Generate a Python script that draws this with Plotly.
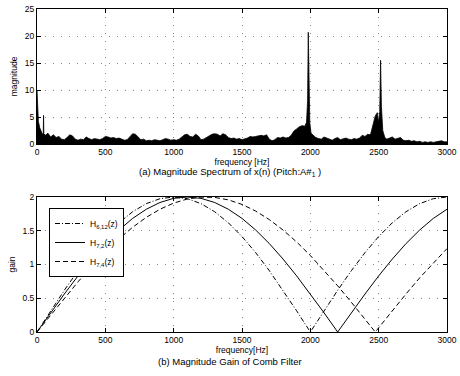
import plotly.graph_objects as go

# ---------------- data ----------------
spec_freq = [0, 5, 10, 20, 30, 40, 46, 48, 50, 60, 80, 100, 120, 140, 160, 180, 200, 220, 240, 260,
             280, 300, 320, 340, 360, 380, 400, 420, 440, 460, 480, 500, 520, 540, 560, 580, 600,
             620, 640, 660, 680, 700, 720, 740, 760, 780, 800, 820, 840, 860, 880, 900, 920, 940,
             960, 980, 1000, 1020, 1040, 1060, 1080, 1100, 1120, 1140, 1160, 1180, 1200, 1220,
             1240, 1260, 1280, 1300, 1320, 1340, 1360, 1380, 1400, 1420, 1440, 1460, 1480, 1500,
             1520, 1540, 1560, 1580, 1600, 1620, 1640, 1660, 1680, 1700, 1720, 1740, 1760, 1780,
             1800, 1820, 1840, 1860, 1880, 1900, 1920, 1940, 1960, 1972, 1980, 1985, 1990, 1996,
             2005, 2020, 2040, 2060, 2080, 2100, 2120, 2140, 2160, 2180, 2200, 2220, 2240, 2260,
             2280, 2300, 2320, 2340, 2360, 2380, 2400, 2420, 2440, 2460, 2475, 2490, 2500, 2508,
             2514, 2520, 2530, 2545, 2560, 2580, 2600, 2620, 2640, 2660, 2680, 2700, 2720, 2740,
             2760, 2780, 2800, 2820, 2840, 2860, 2880, 2900, 2920, 2940, 2960, 2980, 3000]
spec_mag = [10.0, 6.5, 4.2, 3.0, 2.2, 1.8, 2.0, 5.3, 1.9, 1.6, 2.0, 1.3, 1.7, 1.2, 1.4, 0.9, 0.8, 1.2, 1.7, 1.5,
            0.9, 0.7, 0.9, 0.8, 1.3, 1.0, 0.8, 1.0, 0.9, 0.8, 1.0, 1.4, 1.3, 1.1, 1.2, 1.0, 1.1,
            0.9, 0.7, 0.8, 1.3, 1.9, 1.8, 1.2, 0.8, 0.9, 0.6, 0.7, 0.6, 0.8, 0.7, 0.6, 0.8, 1.0,
            0.9, 0.7, 0.8, 0.7, 0.9, 1.3, 1.7, 1.8, 1.4, 1.3, 1.8, 1.5, 0.8, 0.9,
            1.2, 1.6, 1.8, 1.9, 1.8, 1.5, 1.9, 1.7, 1.2, 1.0, 1.1, 0.9, 1.0, 0.8,
            0.9, 1.1, 1.4, 1.3, 1.4, 1.5, 1.6, 1.5, 1.7, 0.9, 0.6, 0.8, 1.2, 1.1,
            1.3, 1.1, 1.2, 1.6, 2.4, 2.8, 3.2, 3.4, 3.3, 4.0, 8.0, 20.7, 9.0, 4.0,
            2.0, 1.6, 1.2, 1.0, 0.9, 1.3, 1.1, 0.9, 0.7, 1.0, 1.2, 0.8, 0.9, 1.1,
            0.9, 0.8, 1.0, 0.9, 1.1, 1.6, 1.4, 1.8, 1.7, 3.5, 5.2, 5.8, 4.0, 6.0,
            15.5, 7.0, 2.5, 1.2, 0.9, 1.1, 1.3, 0.9, 1.0, 1.2, 0.7, 0.6, 0.7, 0.5,
            0.6, 0.4, 0.5, 0.3, 0.4, 0.3, 0.4, 0.3, 0.4, 0.5, 0.6, 0.4, 0.4]

gain_freq = [0, 100, 200, 300, 400, 500, 600, 700, 800, 900, 1000, 1100, 1200, 1300, 1400, 1500,
             1600, 1700, 1800, 1900, 2000, 2100, 2200, 2300, 2400, 2500, 2600, 2700, 2800, 2900, 3000]
gain_h612 = [0, 0.313, 0.618, 0.908, 1.176, 1.414, 1.618, 1.782, 1.902, 1.975, 2.0, 1.975, 1.902,
             1.782, 1.618, 1.414, 1.176, 0.908, 0.618, 0.313, 0.0, 0.313, 0.618, 0.908, 1.176,
             1.414, 1.618, 1.782, 1.902, 1.975, 2.0]
gain_h72 = [0, 0.285, 0.563, 0.831, 1.081, 1.310, 1.511, 1.683, 1.819, 1.919, 1.980, 2.0, 1.980,
            1.919, 1.819, 1.683, 1.511, 1.310, 1.081, 0.831, 0.563, 0.285, 0.0, 0.285, 0.563,
            0.831, 1.081, 1.310, 1.511, 1.683, 1.819]
gain_h74_freq = [0, 100, 200, 300, 400, 500, 600, 700, 800, 900, 1000, 1100, 1200, 1300, 1400,
                 1500, 1600, 1700, 1800, 1900, 2000, 2100, 2200, 2300, 2400, 2475, 2500, 2600,
                 2700, 2800, 2900, 3000]
gain_h74 = [0, 0.253, 0.502, 0.743, 0.972, 1.186, 1.380, 1.552, 1.699, 1.819, 1.910, 1.970, 1.998,
            1.994, 1.958, 1.890, 1.792, 1.665, 1.511, 1.334, 1.134, 0.916, 0.684, 0.441, 0.190,
            0.0, 0.063, 0.316, 0.563, 0.802, 1.027, 1.236]

x_ticks = [0, 500, 1000, 1500, 2000, 2500, 3000]
mag_ticks = [0, 5, 10, 15, 20, 25]
gain_ticks = [0, 0.5, 1, 1.5, 2]
gain_tick_text = ["0", "0.5", "1", "1.5", "2"]

# ---------------- figure ----------------
W, H = 460, 376
FONT = "Liberation Sans, Arial, sans-serif"

fig = go.Figure()
fig.add_trace(go.Scatter(x=spec_freq, y=spec_mag, mode="lines", fill="tozeroy",
                         fillcolor="black", line=dict(color="black", width=0.8),
                         showlegend=False, xaxis="x", yaxis="y"))

fig.add_trace(go.Scatter(x=gain_freq, y=gain_h612, mode="lines", name="H<sub>6,12</sub>(z)",
                         line=dict(color="black", width=1, dash="5px,2px,1px,2px"),
                         xaxis="x2", yaxis="y2"))
fig.add_trace(go.Scatter(x=gain_freq, y=gain_h72, mode="lines", name="H<sub>7,2</sub>(z)",
                         line=dict(color="black", width=1),
                         xaxis="x2", yaxis="y2"))
fig.add_trace(go.Scatter(x=gain_h74_freq, y=gain_h74, mode="lines", name="H<sub>7,4</sub>(z)",
                         line=dict(color="black", width=1, dash="5px,3px"),
                         xaxis="x2", yaxis="y2"))

xd = [37 / W, 447 / W]
ax_common = dict(showline=True, linecolor="black", linewidth=1, mirror="ticks",
                 ticks="inside", ticklen=4, tickcolor="black",
                 showgrid=True, gridcolor="#888", griddash="1px,7px", gridwidth=1,
                 zeroline=False, tickfont=dict(size=8.5, family=FONT, color="black"),
                 automargin=False)

fig.update_layout(
    width=W, height=H,
    margin=dict(l=0, r=0, t=0, b=0),
    paper_bgcolor="white", plot_bgcolor="white",
    font=dict(family=FONT, color="black"),
    xaxis=dict(domain=xd, range=[0, 3000], tickvals=x_ticks, anchor="y",
               title=dict(text="frequency [Hz]", font=dict(size=8.5), standoff=1), **ax_common),
    yaxis=dict(domain=[1 - 144 / H, 1 - 9 / H], range=[0, 25], tickvals=mag_ticks, anchor="x",
               title=dict(text="magnitude", font=dict(size=8.5), standoff=5), **ax_common),
    xaxis2=dict(domain=xd, range=[0, 3000], tickvals=x_ticks, anchor="y2",
                title=dict(text="frequency[Hz]", font=dict(size=8.5), standoff=1), **ax_common),
    yaxis2=dict(domain=[1 - 332 / H, 1 - 197 / H], range=[0, 2], tickvals=gain_ticks,
                ticktext=gain_tick_text, anchor="x2",
                title=dict(text="gain", font=dict(size=8.5), standoff=5), **ax_common),
    legend=dict(x=49 / W, y=1 - 208 / H, xanchor="left", yanchor="top",
                bordercolor="black", borderwidth=1, bgcolor="white",
                font=dict(size=8.5, family=FONT), tracegroupgap=0, itemwidth=30),
    annotations=[
        dict(text="(a) Magnitude Spectrum of x(n) (Pitch:A#<sub>1</sub> )", x=0.5, y=1 - 172 / H,
             xref="paper", yref="paper", showarrow=False, font=dict(size=9.5, family=FONT),
             xanchor="center", yanchor="middle"),
        dict(text="(b) Magnitude Gain of Comb Filter", x=0.5, y=1 - 361 / H,
             xref="paper", yref="paper", showarrow=False, font=dict(size=9.5, family=FONT),
             xanchor="center", yanchor="middle"),
    ],
)

fig.write_html("out.html")
